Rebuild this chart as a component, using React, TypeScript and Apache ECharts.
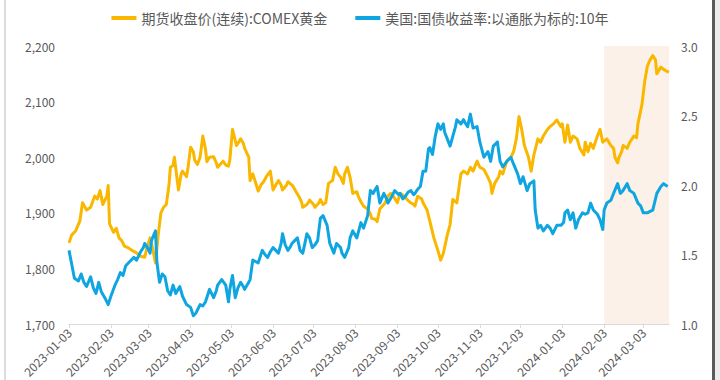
import React, { useEffect, useRef } from "react";
import * as echarts from "echarts";

const startDate = "2023-01-03";
const endDate = "2024-03-22";
const shadeRange = ["2024-02-03", "2024-03-22"];

const goldName = "期货收盘价(连续):COMEX黄金";
const yieldName = "美国:国债收益率:以通胀为标的:10年";

const goldDates = [
  "2023-01-03","2023-01-05","2023-01-08","2023-01-11","2023-01-13","2023-01-16","2023-01-19","2023-01-22","2023-01-24","2023-01-26","2023-01-28","2023-01-31",
  "2023-02-01","2023-02-02","2023-02-05","2023-02-07","2023-02-09","2023-02-11","2023-02-13","2023-02-16","2023-02-19","2023-02-22","2023-02-25","2023-02-28",
  "2023-03-02","2023-03-04","2023-03-06","2023-03-08","2023-03-10","2023-03-12","2023-03-14","2023-03-16","2023-03-18","2023-03-19","2023-03-21","2023-03-22","2023-03-25","2023-03-27","2023-03-28","2023-03-31",
  "2023-04-01","2023-04-03","2023-04-05","2023-04-06","2023-04-08","2023-04-10","2023-04-12","2023-04-14","2023-04-15","2023-04-17","2023-04-20","2023-04-22","2023-04-23","2023-04-26","2023-04-27","2023-04-29",
  "2023-05-01","2023-05-02","2023-05-04","2023-05-06","2023-05-07","2023-05-10","2023-05-12","2023-05-13","2023-05-16","2023-05-17","2023-05-19","2023-05-21","2023-05-23","2023-05-25","2023-05-27","2023-05-29",
  "2023-06-01","2023-06-03","2023-06-05","2023-06-07","2023-06-09","2023-06-10","2023-06-13","2023-06-14","2023-06-17","2023-06-18","2023-06-20","2023-06-22","2023-06-24","2023-06-25","2023-06-28","2023-06-29","2023-06-30",
  "2023-07-03","2023-07-04","2023-07-07","2023-07-08","2023-07-10","2023-07-12","2023-07-14","2023-07-17","2023-07-19","2023-07-21","2023-07-23","2023-07-25","2023-07-26","2023-07-28","2023-07-30",
  "2023-08-01","2023-08-04","2023-08-05","2023-08-07","2023-08-09","2023-08-12","2023-08-14","2023-08-15","2023-08-18","2023-08-19","2023-08-21","2023-08-24","2023-08-25","2023-08-27","2023-08-29","2023-08-31",
  "2023-09-03","2023-09-05","2023-09-07","2023-09-09","2023-09-11","2023-09-13","2023-09-15","2023-09-16","2023-09-18","2023-09-21","2023-09-22","2023-09-25","2023-09-26","2023-09-27","2023-09-30",
  "2023-10-03","2023-10-05","2023-10-07","2023-10-10","2023-10-12","2023-10-14","2023-10-17","2023-10-20","2023-10-22","2023-10-25","2023-10-27","2023-10-29",
  "2023-11-01","2023-11-03","2023-11-06","2023-11-09","2023-11-11","2023-11-12","2023-11-14","2023-11-17","2023-11-18","2023-11-20","2023-11-23","2023-11-26","2023-11-28","2023-11-30",
  "2023-12-02","2023-12-04","2023-12-06","2023-12-09","2023-12-11","2023-12-13","2023-12-16","2023-12-18","2023-12-20","2023-12-23","2023-12-25","2023-12-27","2023-12-30",
  "2024-01-02","2024-01-03","2024-01-05","2024-01-07","2024-01-09","2024-01-11","2024-01-14","2024-01-16","2024-01-19","2024-01-20","2024-01-22","2024-01-24","2024-01-26","2024-01-29","2024-01-31",
  "2024-02-02","2024-02-05","2024-02-08","2024-02-10","2024-02-11","2024-02-13","2024-02-14","2024-02-16","2024-02-17","2024-02-20","2024-02-22","2024-02-25","2024-02-27","2024-02-28",
  "2024-03-02","2024-03-04","2024-03-06","2024-03-08","2024-03-10","2024-03-12","2024-03-13","2024-03-16","2024-03-18","2024-03-20","2024-03-22"
];
const goldValues = [
  1846,1860,1868,1885,1918,1905,1910,1930,1925,1940,1915,1930,
  1949,1880,1865,1872,1855,1850,1840,1837,1832,1828,1822,1820,
  1840,1855,1835,1810,1860,1900,1910,1915,1950,1982,1985,2000,1941,1970,1975,1965,
  1980,2018,2010,1995,1987,2000,2038,2015,1992,2000,2001,1990,1982,1990,1993,1986,
  1984,1995,2050,2030,2021,2033,2025,2016,2000,1958,1970,1955,1939,1950,1956,1965,
  1975,1941,1950,1958,1950,1941,1950,1956,1950,1947,1938,1930,1920,1910,1915,1918,1923,
  1915,1910,1918,1924,1915,1918,1953,1958,1982,1970,1964,1953,1970,1982,1964,
  1935,1938,1930,1920,1912,1907,1898,1890,1888,1884,1907,1915,1918,1930,1935,1930,
  1918,1935,1932,1927,1922,1918,1915,1912,1930,1925,1918,1905,1895,1885,1855,
  1832,1815,1827,1861,1879,1924,1918,1970,1975,1970,1982,1975,
  1993,1982,1978,1964,1953,1935,1953,1965,1975,1970,1993,2000,2010,2033,
  2073,2050,2021,2000,1975,2004,2033,2027,2038,2050,2055,2059,2067,
  2055,2060,2027,2058,2027,2038,2033,2016,2004,2027,2010,2025,2016,2038,2050,
  2027,2033,2021,2016,2000,1990,2000,2010,2021,2016,2027,2038,2035,2060,
  2095,2136,2164,2175,2183,2175,2150,2162,2158,2155,2153
];

const yieldDates = [
  "2023-01-03","2023-01-04","2023-01-06","2023-01-07","2023-01-10","2023-01-12","2023-01-14","2023-01-16","2023-01-19","2023-01-21","2023-01-23","2023-01-25","2023-01-27","2023-01-30",
  "2023-02-01","2023-02-03","2023-02-06","2023-02-08","2023-02-10","2023-02-12","2023-02-14","2023-02-17","2023-02-20","2023-02-22","2023-02-25","2023-02-27","2023-02-28",
  "2023-03-02","2023-03-04","2023-03-05","2023-03-08","2023-03-09","2023-03-11","2023-03-13","2023-03-15","2023-03-17","2023-03-19","2023-03-21","2023-03-23","2023-03-26","2023-03-28","2023-03-31",
  "2023-04-03","2023-04-05","2023-04-07","2023-04-10","2023-04-12","2023-04-14","2023-04-16","2023-04-17","2023-04-20","2023-04-22","2023-04-23","2023-04-26","2023-04-29",
  "2023-05-01","2023-05-02","2023-05-04","2023-05-06","2023-05-08","2023-05-10","2023-05-12","2023-05-13","2023-05-16","2023-05-17","2023-05-19","2023-05-21","2023-05-23","2023-05-26","2023-05-28","2023-05-30",
  "2023-06-01","2023-06-03","2023-06-05","2023-06-07","2023-06-09","2023-06-10","2023-06-12","2023-06-14","2023-06-16","2023-06-17","2023-06-19","2023-06-21","2023-06-23","2023-06-25","2023-06-27","2023-06-28","2023-06-30",
  "2023-07-02","2023-07-04","2023-07-06","2023-07-08","2023-07-10","2023-07-13","2023-07-15","2023-07-18","2023-07-20","2023-07-23","2023-07-24","2023-07-26","2023-07-29","2023-07-30",
  "2023-08-01","2023-08-04","2023-08-07","2023-08-09","2023-08-12","2023-08-14","2023-08-16","2023-08-19","2023-08-21","2023-08-24","2023-08-26","2023-08-27","2023-08-30",
  "2023-09-01","2023-09-04","2023-09-05","2023-09-07","2023-09-09","2023-09-11","2023-09-13","2023-09-15","2023-09-16","2023-09-18","2023-09-20","2023-09-22","2023-09-24","2023-09-26","2023-09-27","2023-09-29",
  "2023-10-01","2023-10-03","2023-10-05","2023-10-07","2023-10-08","2023-10-10","2023-10-12","2023-10-14","2023-10-16","2023-10-17","2023-10-20","2023-10-22","2023-10-23","2023-10-25","2023-10-27","2023-10-29",
  "2023-11-01","2023-11-03","2023-11-06","2023-11-09","2023-11-11","2023-11-13","2023-11-16","2023-11-18","2023-11-20","2023-11-23","2023-11-26","2023-11-28",
  "2023-12-01","2023-12-03","2023-12-05","2023-12-08","2023-12-10","2023-12-13","2023-12-14","2023-12-16","2023-12-18","2023-12-20","2023-12-23","2023-12-25","2023-12-27","2023-12-30",
  "2024-01-02","2024-01-04","2024-01-05","2024-01-07","2024-01-09","2024-01-11","2024-01-13","2024-01-15","2024-01-18","2024-01-20","2024-01-22","2024-01-24","2024-01-26","2024-01-29","2024-01-31",
  "2024-02-02","2024-02-03","2024-02-05","2024-02-08","2024-02-10","2024-02-13","2024-02-15","2024-02-17","2024-02-20","2024-02-22","2024-02-25","2024-02-28",
  "2024-03-01","2024-03-03","2024-03-06","2024-03-08","2024-03-10","2024-03-13","2024-03-16","2024-03-18","2024-03-21"
];
const yieldValues = [
  1.53,1.48,1.38,1.33,1.31,1.36,1.30,1.27,1.34,1.26,1.22,1.30,1.23,1.18,
  1.14,1.20,1.28,1.32,1.37,1.35,1.42,1.45,1.48,1.46,1.52,1.55,1.58,
  1.55,1.51,1.60,1.67,1.45,1.30,1.36,1.34,1.24,1.21,1.28,1.22,1.27,1.20,1.14,
  1.12,1.06,1.08,1.14,1.13,1.16,1.22,1.25,1.19,1.24,1.28,1.32,1.28,
  1.16,1.25,1.35,1.19,1.26,1.30,1.27,1.25,1.30,1.32,1.46,1.45,1.44,1.53,1.50,1.48,
  1.52,1.55,1.53,1.51,1.58,1.65,1.57,1.53,1.56,1.58,1.60,1.62,1.53,1.51,1.60,1.65,1.62,
  1.55,1.57,1.60,1.76,1.78,1.71,1.58,1.51,1.58,1.55,1.51,1.48,1.55,1.62,
  1.67,1.62,1.73,1.69,1.78,1.96,1.94,1.99,1.87,1.94,1.90,1.87,1.92,
  1.96,1.93,1.94,1.90,1.92,1.95,1.96,1.93,1.94,1.97,1.99,2.10,2.10,2.26,2.27,2.22,
  2.35,2.44,2.40,2.44,2.38,2.33,2.28,2.35,2.42,2.47,2.44,2.47,2.45,2.42,2.51,2.41,
  2.42,2.31,2.20,2.24,2.17,2.28,2.31,2.17,2.13,2.17,2.20,2.15,
  2.08,2.01,2.06,1.96,2.01,2.03,1.82,1.69,1.71,1.67,1.71,1.69,1.65,1.71,
  1.71,1.73,1.80,1.82,1.75,1.80,1.69,1.75,1.80,1.79,1.80,1.87,1.82,1.79,1.75,
  1.68,1.82,1.87,1.89,1.94,2.01,1.94,1.96,2.01,1.96,1.94,1.87,
  1.85,1.80,1.80,1.81,1.82,1.94,1.99,2.01,1.99
];

function buildDays(start: string, end: string): string[] {
  const out: string[] = [];
  const d = new Date(start + "T00:00:00Z");
  const e = new Date(end + "T00:00:00Z");
  while (d.getTime() <= e.getTime()) {
    out.push(d.toISOString().slice(0, 10));
    d.setUTCDate(d.getUTCDate() + 1);
  }
  return out;
}

const FONT = "Noto Sans CJK SC";
const GOLD = "#F9B700";
const BLUE = "#0FA5E1";

export default function App() {
  const ref = useRef<HTMLDivElement>(null);
  useEffect(() => {
    if (!ref.current) return;
    const chart = echarts.init(ref.current, undefined, { renderer: "svg" });
    const days = buildDays(startDate, endDate);
    const idx = new Map<string, number>();
    days.forEach((d, i) => idx.set(d, i));
    const goldData = goldDates.map((d, i) => [idx.get(d), goldValues[i]]);
    const yieldData = yieldDates.map((d, i) => [idx.get(d), yieldValues[i]]);
    const isTick = (_i: number, v: string) => v.slice(8) === "03";

    chart.setOption({
      animation: false,
      backgroundColor: "#ffffff",
      textStyle: { fontFamily: FONT },
      legend: {
        top: 6,
        left: "center",
        itemWidth: 25,
        itemHeight: 4,
        itemGap: 28,
        icon: "rect",
        textStyle: { fontSize: 14, color: "#595959", fontFamily: FONT },
        data: [goldName, yieldName],
      },
      grid: { left: 69, right: 51, top: 46, bottom: 43, containLabel: false },
      xAxis: {
        type: "category",
        data: days,
        boundaryGap: false,
        axisLine: { lineStyle: { color: "#d9d9d9" } },
        axisTick: { interval: isTick, length: 4, lineStyle: { color: "#d9d9d9" } },
        axisLabel: {
          interval: isTick,
          rotate: 45,
          fontSize: 12,
          color: "#595959",
          margin: 6,
          fontFamily: FONT,
        },
        splitLine: { show: false },
      },
      yAxis: [
        {
          type: "value",
          min: 1700,
          max: 2200,
          interval: 100,
          position: "left",
          axisLine: { show: false },
          axisTick: { show: false },
          splitLine: { show: false },
          axisLabel: {
            fontSize: 12,
            color: "#595959",
            margin: 14,
            fontFamily: FONT,
            formatter: (v: number) => v.toLocaleString("en-US"),
          },
        },
        {
          type: "value",
          min: 1.0,
          max: 3.0,
          interval: 0.5,
          position: "right",
          axisLine: { show: false },
          axisTick: { show: false },
          splitLine: { show: false },
          axisLabel: {
            fontSize: 12,
            color: "#595959",
            margin: 12,
            fontFamily: FONT,
            formatter: (v: number) => v.toFixed(1),
          },
        },
      ],
      series: [
        {
          name: goldName,
          type: "line",
          yAxisIndex: 0,
          data: goldData,
          showSymbol: false,
          symbol: "none",
          lineStyle: { width: 3, color: GOLD, join: "round" },
          itemStyle: { color: GOLD },
          z: 3,
          markArea: {
            silent: true,
            itemStyle: { color: "rgba(250, 228, 210, 0.5)" },
            data: [[{ xAxis: shadeRange[0] }, { xAxis: shadeRange[1] }]],
          },
        },
        {
          name: yieldName,
          type: "line",
          yAxisIndex: 1,
          data: yieldData,
          showSymbol: false,
          symbol: "none",
          lineStyle: { width: 3, color: BLUE, join: "round" },
          itemStyle: { color: BLUE },
          z: 4,
        },
      ],
      graphic: [
        { type: "rect", left: 4, top: 0, shape: { width: 2, height: 380 }, style: { fill: "#dcdcdc" } },
        { type: "rect", left: 712, top: 0, shape: { width: 3, height: 380 }, style: { fill: "#5a5a5a" } },
        { type: "rect", left: 715, top: 0, shape: { width: 5, height: 380 }, style: { fill: "#ececec" } },
      ],
    });
    return () => chart.dispose();
  }, []);
  return (
    <div
      ref={ref}
      style={{ position: "absolute", left: 0, top: 0, width: 720, height: 380 }}
    />
  );
}
